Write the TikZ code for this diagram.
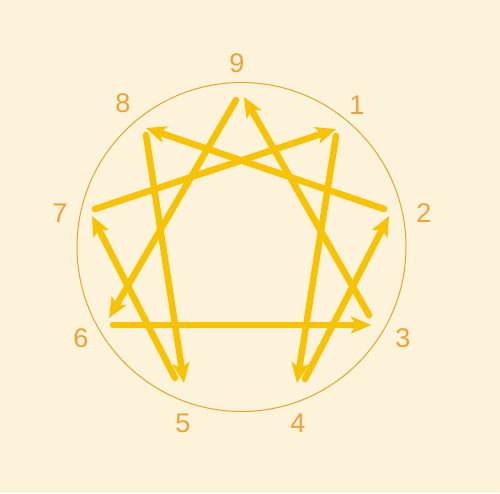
\documentclass[tikz,border=0pt]{standalone}
\usepackage{fontspec}
\setmainfont{Liberation Sans}
\usetikzlibrary{arrows.meta}
\definecolor{bgc}{HTML}{FDF2DA}
\definecolor{numc}{HTML}{F0A232}
\definecolor{arrc}{HTML}{F7C300}
\definecolor{circc}{HTML}{E2A624}
\tikzset{
  num/.style={text=numc,font=\fontsize{27}{27}\selectfont,inner sep=0pt,anchor=center},
  arr/.style={draw=arrc,line width=6.5pt,line cap=round,-{Stealth[length=20pt,width=17pt,inset=5pt]}},
}
\begin{document}
\begin{tikzpicture}[x=1pt,y=-1pt]
\fill[bgc] (0,0) rectangle (500,493);
\useasboundingbox (0,0) rectangle (500,493);
\draw[circc,line width=1pt] (241.5,247) circle (164.5);
% labels
\node[num] (n9) at (237,63) {9};
\node[num] (n1) at (357,105) {1};
\node[num] (n2) at (424,213) {2};
\node[num] (n3) at (403,338) {3};
\node[num] (n4) at (298,423) {4};
\node[num] (n5) at (183,423) {5};
\node[num] (n6) at (81,338) {6};
\node[num] (n7) at (60,213) {7};
\node[num] (n8) at (123,103) {8};
% endpoints
\coordinate (a9) at (236,100);
\coordinate (b9) at (244,97);
\coordinate (a1) at (336,136);
\coordinate (b1) at (336,129);
\coordinate (a2) at (384,209);
\coordinate (b2) at (389,216);
\coordinate (a3) at (369,315);
\coordinate (b3) at (371,325);
\coordinate (a4) at (305,379);
\coordinate (b4) at (297,383);
\coordinate (a5) at (175,378);
\coordinate (b5) at (184,383);
\coordinate (a6) at (113,325);
\coordinate (b6) at (109,318);
\coordinate (a7) at (95,209);
\coordinate (b7) at (92,216);
\coordinate (a8) at (146,135);
\coordinate (b8) at (146,128);
% arrows
\draw[arr] (a9) -- (b6);
\draw[arr] (a6) -- (b3);
\draw[arr] (a3) -- (b9);
\draw[arr] (a8) -- (b5);
\draw[arr] (a5) -- (b7);
\draw[arr] (a7) -- (b1);
\draw[arr] (a1) -- (b4);
\draw[arr] (a4) -- (b2);
\draw[arr] (a2) -- (b8);
\end{tikzpicture}
\end{document}
